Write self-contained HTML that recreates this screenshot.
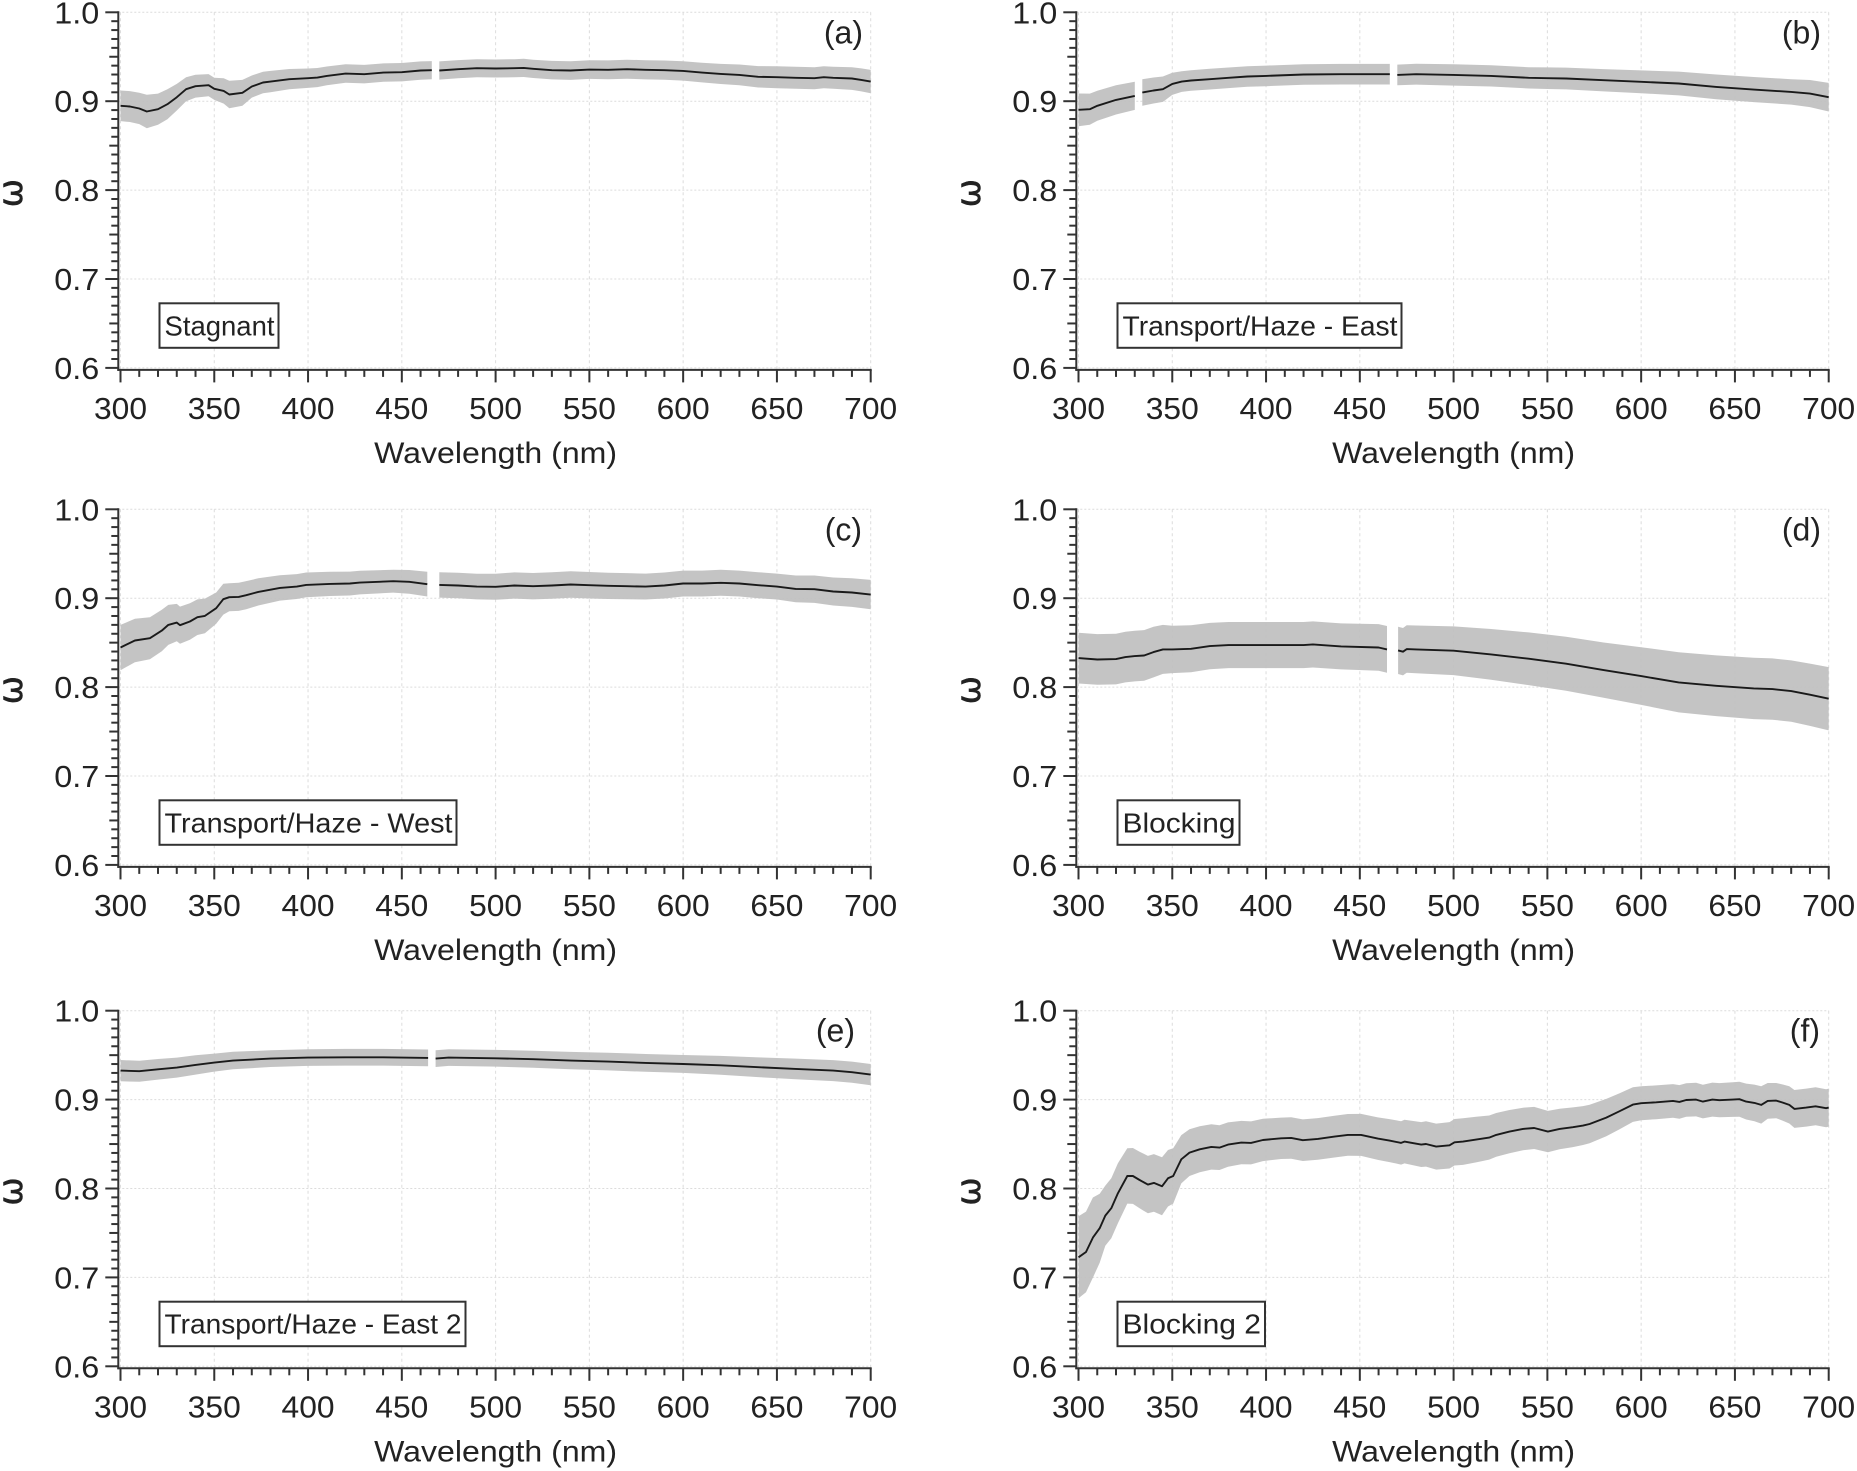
<!DOCTYPE html>
<html lang="en">
<head>
<meta charset="utf-8">
<title>Single scattering albedo panels</title>
<style>
html,body{margin:0;padding:0;background:#fff;}
svg{display:block;}
text{font-family:"Liberation Sans",sans-serif;fill:#222;}
</style>
</head>
<body>
<svg id="figure" xmlns="http://www.w3.org/2000/svg" width="1857" height="1471" viewBox="0 0 1857 1471"></svg>
<script>
// ---- Shared axes ----
const xTickLabels = [300, 350, 400, 450, 500, 550, 600, 650, 700];
const yTickLabels = ['0.6', '0.7', '0.8', '0.9', '1.0'];

// ---- Panel (a) Stagnant ----
const wavelengthA = [300,305,310,314,320,325,330,335,340,347,350,355,358,365,370,376,380,390,400,405,410,420,430,440,450,460,466,468,470,480,490,500,510,515,520,530,540,550,560,570,580,590,600,610,620,630,640,650,660,670,675,680,690,695,700];
const omegaA = [.8948,.894,.8918,.8884,.891,.8966,.9045,.9135,.9169,.918,.9139,.9116,.9075,.9094,.9165,.921,.9221,.9248,.9259,.9266,.9285,.9311,.9304,.9322,.9326,.9345,.9349,null,.9345,.936,.9371,.9368,.9371,.9375,.9364,.9349,.9345,.9356,.9353,.936,.9353,.9349,.9341,.9322,.9307,.9296,.9274,.927,.9263,.9259,.927,.9263,.9255,.924,.9221];
const spreadWavelengthA = [300,310,314,320,325,330,335,340,350,358,365,370,380,400,410,500,540,600,620,650,680,700];
const spreadA = [.0172,.0176,.0188,.0176,.0169,.015,.0135,.0128,.0124,.0154,.0146,.0124,.012,.0109,.0105,.0101,.0105,.0109,.0113,.0124,.0124,.0131];

// ---- Panel (b) Transport/Haze - East ----
const wavelengthB = [300,306,310,320,330,332,334,340,345,350,355,360,370,380,390,400,420,440,460,466,468,470,480,500,520,540,550,560,580,600,620,640,660,680,690,700];
const omegaB = [.8903,.891,.8948,.9015,.906,null,.9098,.912,.9135,.9195,.9221,.9233,.9248,.9263,.9278,.9285,.93,.9304,.9304,.9304,null,.9296,.9304,.9296,.9285,.9263,.9259,.9255,.9236,.9218,.9199,.9161,.9131,.9105,.9086,.9045];
const spreadWavelengthB = [300,310,320,330,334,345,350,355,400,470,500,540,600,640,680,700];
const spreadB = [.0184,.0169,.0165,.0158,.015,.0143,.0124,.0116,.0116,.0116,.012,.012,.0128,.0139,.0143,.0161];

// ---- Panel (c) Transport/Haze - West ----
const wavelengthC = [300,307.7,315.7,322,325.5,330,331.7,337,341,345,351,354.8,358,363,367,373.5,385,394,399,411.6,422.3,427.6,445.4,454,463.6,467,470,480,490,500,510,520,530,540,550,560,570,580,590,600,610,620,630,640,650,660,670,680,690,700];
const omegaC = [.8445,.8524,.855,.8636,.87,.8726,.8696,.8738,.8786,.8801,.8888,.8989,.9011,.9015,.9034,.9071,.9116,.9131,.915,.9161,.9165,.9176,.9191,.9184,.9158,null,.915,.9143,.9131,.9128,.9143,.9135,.9143,.9154,.9146,.9139,.9135,.9131,.9143,.9165,.9165,.9173,.9165,.9146,.9131,.9105,.9101,.9075,.9064,.9041];
const spreadWavelengthC = [300,307.7,315.7,322,325.5,330,337,345,351,355,358,367,385,399,420,445,463,470,500,540,580,600,630,650,670,700];
const spreadC = [.0255,.0244,.0236,.0233,.0225,.021,.0206,.0195,.0176,.0173,.0158,.0158,.0143,.0139,.0135,.0128,.0139,.0143,.0146,.015,.0146,.0146,.0146,.0146,.0154,.0165];

// ---- Panel (d) Blocking ----
const wavelengthD = [300,310,320,325,330,335,340,345,350,360,370,380,400,420,425,440,460,464.5,467,470.4,473,475,480,500,520,540,560,580,600,620,640,660,670,680,690,700];
const omegaD = [.8326,.8311,.8315,.8338,.8349,.8356,.8394,.8424,.8424,.8431,.8461,.8473,.8473,.8473,.848,.8458,.8446,.8424,null,.8413,.8398,.8428,.8424,.8409,.8368,.8319,.8263,.8191,.8124,.8053,.8015,.7985,.7978,.7955,.7914,.7869];
const spreadWavelengthD = [300,340,350,380,440,464,470,500,540,580,620,660,680,700];
const spreadD = [.0285,.0285,.0266,.0259,.0259,.0263,.0266,.0274,.0296,.0311,.0338,.0345,.0345,.0356];

// ---- Panel (e) Transport/Haze - East 2 ----
const wavelengthE = [300,310,320,330,340,350,360,380,400,420,440,464,466,468,475,500,520,540,560,580,600,620,640,660,680,690,700];
const omegaE = [.9326,.9319,.9341,.936,.939,.9416,.9439,.9461,.9473,.9476,.9476,.9469,null,.9461,.9473,.9465,.9454,.9439,.9428,.9413,.9401,.9386,.9364,.9345,.9326,.9308,.9281];
const spreadWavelengthE = [300,320,340,350,380,500,540,600,660,700];
const spreadE = [.012,.0116,.0109,.0101,.0094,.0094,.0098,.0101,.0116,.012];

// ---- Panel (f) Blocking 2 ----
const wavelengthF = [300,304,307.7,311.3,314.3,317.5,321,326,329,332.6,337,340.2,344.5,347.7,350.5,354.8,359.2,364.6,370.8,375.2,379.7,386.8,392,398.3,408,413.4,419.6,427.6,436.5,443.6,450.7,459.6,465.8,472,473.8,482.7,485.3,490.7,497.8,500.5,505,512,519,522.7,529.8,537,543,550.3,556.5,563.6,569,572.5,581.4,588.5,595.6,600,608,617,620.4,624,629.3,632.9,638,641.7,648.8,652.4,656,660.4,664,667.5,672,675.5,679,681.7,688,693,698.6,700];
const omegaF = [.7226,.7286,.7448,.7553,.7695,.7778,.7946,.8141,.8141,.8096,.8044,.8063,.8025,.8115,.8141,.8329,.8404,.8441,.8468,.846,.8494,.8516,.8513,.8546,.8565,.8569,.8543,.8558,.8584,.8603,.8603,.8561,.8539,.8513,.8528,.8494,.8501,.8471,.8486,.852,.8528,.855,.8573,.8603,.864,.867,.8681,.864,.867,.8689,.8708,.8726,.8798,.8869,.8944,.8959,.897,.8985,.8974,.8996,.9,.8978,.9,.8993,.9,.9004,.8978,.8963,.894,.8985,.8989,.8966,.894,.8895,.891,.8925,.8903,.891];
const spreadWavelengthF = [300,304,308,314,321,326,337,344.5,350.5,355,359,371,387,408,451,472,491,507,519,550,581,600,627,650,664,670,682,700];
const spreadF = [.0461,.0454,.045,.0338,.0338,.0311,.0323,.0326,.0311,.027,.0263,.0255,.0244,.0233,.0236,.0244,.0259,.0263,.0248,.0233,.021,.0191,.0188,.0195,.021,.0195,.0214,.0214];

// ---- Panel text ----
const panelLetters = ['(a)', '(b)', '(c)', '(d)', '(e)', '(f)'];
const panelTitles = ['Stagnant', 'Transport/Haze - East', 'Transport/Haze - West', 'Blocking', 'Transport/Haze - East 2', 'Blocking 2'];
const panelWavelengths = [wavelengthA, wavelengthB, wavelengthC, wavelengthD, wavelengthE, wavelengthF];
const panelOmegas = [omegaA, omegaB, omegaC, omegaD, omegaE, omegaF];
const panelSpreadWavelengths = [spreadWavelengthA, spreadWavelengthB, spreadWavelengthC, spreadWavelengthD, spreadWavelengthE, spreadWavelengthF];
const panelSpreads = [spreadA, spreadB, spreadC, spreadD, spreadE, spreadF];

// ---- Layout (not data) ----
const COL_OFFSET = 958, ROW_OFFSETS = [0, 497, 998.4];
const PX_PER_NM = 1.8755, PX_PER_OMEGA = 889;
const X0 = 120.5, Y_TOP = 12.3;
const boxWidths = [119, 284, 297, 122, 306, 147.5];
const letterRight = [863, 863, 862, 863, 855, 862];

const NS = 'http://www.w3.org/2000/svg';
const fig = document.getElementById('figure');

function make(tag, attrs, parent, txt) {
  const el = document.createElementNS(NS, tag);
  for (const k in attrs) el.setAttribute(k, attrs[k]);
  if (txt !== undefined) el.textContent = txt;
  parent.appendChild(el);
  return el;
}
function interp(xs, ys, x) {
  if (x <= xs[0]) return ys[0];
  for (let i = 1; i < xs.length; i++) {
    if (x <= xs[i]) {
      const t = (x - xs[i-1]) / (xs[i] - xs[i-1]);
      return ys[i-1] + t * (ys[i] - ys[i-1]);
    }
  }
  return ys[ys.length - 1];
}

panelTitles.forEach(function (title, idx) {
  const col = idx % 2, row = Math.floor(idx / 2);
  const dx = col * COL_OFFSET, dy = ROW_OFFSETS[row];
  const xScale = function (w) { return X0 + dx + (w - 300) * PX_PER_NM; };
  const yScale = function (v) { return Y_TOP + dy + (1 - v) * PX_PER_OMEGA; };
  const spineX = X0 + dx - 2.2, spineY = yScale(0.6) + 2;

  const g = make('g', {}, fig);
  
  

  // gridlines
  const grid = make('g', {stroke: '#dcdcdc', 'stroke-width': 1, fill: 'none'}, g);
  
  
  xTickLabels.forEach(function (w) {
    make('line', {x1: xScale(w), x2: xScale(w), y1: yScale(1), y2: spineY, 'stroke-dasharray': '3 3'}, grid);
  });
  yTickLabels.forEach(function (lab) {
    make('line', {x1: spineX, x2: xScale(700), y1: yScale(+lab), y2: yScale(+lab), 'stroke-dasharray': '2 2'}, grid);
  });

  // series split at null gaps
  const wl = panelWavelengths[idx], om = panelOmegas[idx];
  const sw = panelSpreadWavelengths[idx], sp = panelSpreads[idx];
  const segments = [];
  let cur = [];
  wl.forEach(function (w, i) {
    if (om[i] === null) { segments.push(cur); cur = []; }
    else cur.push([w, om[i]]);
  });
  segments.push(cur);

  segments.forEach(function (seg, sIdx) {
    const upper = seg.map(function (p) { return xScale(p[0]).toFixed(1) + ',' + yScale(p[1] + interp(sw, sp, p[0])).toFixed(1); });
    const lower = seg.map(function (p) { return xScale(p[0]).toFixed(1) + ',' + yScale(p[1] - interp(sw, sp, p[0])).toFixed(1); }).reverse();
    const band = make('polygon', {points: upper.concat(lower).join(' '), fill: '#bfbfbf', 'fill-opacity': 0.92}, g);
    
    
  });
  segments.forEach(function (seg) {
    const pts = seg.map(function (p) { return xScale(p[0]).toFixed(1) + ',' + yScale(p[1]).toFixed(1); }).join(' ');
    const line = make('polyline', {points: pts, fill: 'none', stroke: '#1a1a1a', 'stroke-width': 1.9, 'stroke-linejoin': 'round'}, g);
    
    
  });

  // axes
  const axes = make('g', {stroke: '#333', 'stroke-width': 2, fill: 'none'}, g);
  
  
  make('line', {x1: spineX, x2: spineX, y1: yScale(1) - 1, y2: spineY + 1}, axes);
  make('line', {x1: spineX - 1, x2: xScale(700) + 1, y1: spineY, y2: spineY}, axes);
  for (let w = 300; w <= 700; w += 10) {
    const major = w % 50 === 0;
    make('line', {x1: xScale(w), x2: xScale(w), y1: spineY, y2: spineY + (major ? 12.5 : 7)}, axes);
  }
  for (let k = 60; k <= 100; k++) {
    const len = k % 10 === 0 ? 13 : (k % 5 === 0 ? 9 : 7);
    make('line', {x1: spineX - len, x2: spineX, y1: yScale(k / 100), y2: yScale(k / 100)}, axes);
  }

  // tick labels
  xTickLabels.forEach(function (w) {
    const t = make('text', {x: xScale(w), y: spineY + 49, 'text-anchor': 'middle', 'font-size': 31, textLength: 53, lengthAdjust: 'spacingAndGlyphs'}, g, String(w));
    
    
  });
  yTickLabels.forEach(function (lab) {
    const t = make('text', {x: spineX - 19, y: yScale(+lab) + 11, 'text-anchor': 'end', 'font-size': 31, textLength: 45, lengthAdjust: 'spacingAndGlyphs'}, g, lab);
    
    
  });

  // axis titles
  const xt = make('text', {x: xScale(500), y: spineY + 93, 'text-anchor': 'middle', 'font-size': 30, textLength: 243, lengthAdjust: 'spacingAndGlyphs'}, g, 'Wavelength (nm)');
  
  
  const yt = make('text', {transform: 'translate(' + (22 + dx) + ',' + (yScale(0.8) + 3) + ') rotate(-90)', 'text-anchor': 'middle', 'font-size': 34, stroke: '#222', 'stroke-width': 0.5, style: 'font-family:"DejaVu Sans",sans-serif'}, g, 'ω');
  
  

  // panel letter
  const pl = make('text', {x: letterRight[idx] + dx, y: yScale(1) + 31, 'text-anchor': 'end', 'font-size': 32}, g, panelLetters[idx]);
  
  

  // annotation box
  const boxX = 159.5 + dx, boxY = yScale(1) + 291;
  const box = make('rect', {x: boxX, y: boxY, width: boxWidths[idx], height: 44.5, fill: '#fff', stroke: '#333', 'stroke-width': 2}, g);
  
  
  const bt = make('text', {x: boxX + 5, y: boxY + 32, 'font-size': 28, textLength: boxWidths[idx] - 9, lengthAdjust: 'spacingAndGlyphs'}, g, title);
  
  
});
</script>
</body>
</html>
